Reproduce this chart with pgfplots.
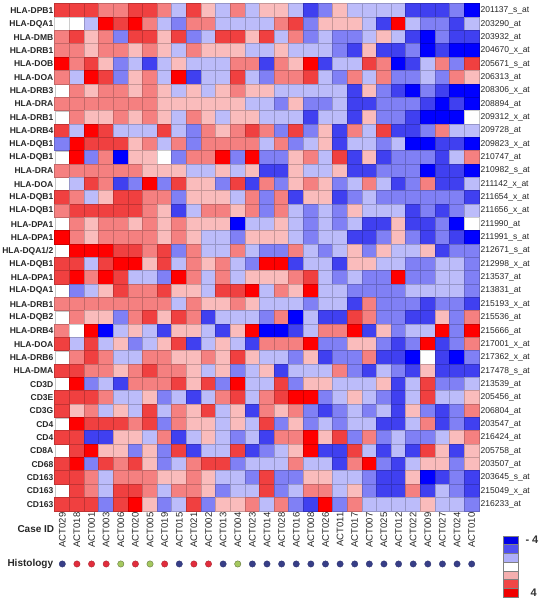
\documentclass[border=0pt]{standalone}
\usepackage{pgfplots}
\pgfplotsset{compat=1.18}
\usepackage{fontspec}
\setmainfont{Liberation Sans}
\definecolor{histnavy}{RGB}{55,62,135}
\definecolor{histred}{RGB}{225,45,60}
\definecolor{histgreen}{RGB}{165,200,95}
\begin{document}
\begin{tikzpicture}
\useasboundingbox (0,0) rectangle (542bp,601bp);
\begin{axis}[
  at={(55bp,90bp)}, anchor=south west,
  scale only axis, width=424bp, height=507bp,
  xmin=-0.5, xmax=28.5, ymin=-0.5, ymax=37.5, y dir=reverse,
  clip=false, axis on top,
  colormap={bwr}{rgb255=(0,0,255) rgb255=(64,64,240) rgb255=(128,128,245) rgb255=(188,188,250) rgb255=(255,255,255) rgb255=(250,188,188) rgb255=(245,128,128) rgb255=(240,64,64) rgb255=(255,0,0)},
  point meta min=-4, point meta max=4,
  xtick={0,...,28}, ytick={0,...,37},
  major tick length=0pt, minor tick length=0pt,
  minor xtick={-0.5,0.5,...,28.5}, minor ytick={-0.5,0.5,...,37.5},
  grid=minor, minor grid style={black!22, line width=0.2bp},
  axis line style={black!22, line width=0.2bp},
  xticklabels={ACT029,ACT018,ACT001,ACT003,ACT006,ACT020,ACT005,ACT019,ACT015,ACT021,ACT002,ACT013,ACT004,ACT023,ACT014,ACT028,ACT016,ACT008,ACT026,ACT011,ACT017,ACT007,ACT025,ACT012,ACT022,ACT009,ACT027,ACT024,ACT010},
  yticklabels={HLA-DPB1,HLA-DQA1,HLA-DMB,HLA-DRB1,HLA-DOB,HLA-DOA,HLA-DRB3,HLA-DRA,HLA-DRB1,HLA-DRB4,HLA-DQB1,HLA-DQB1,HLA-DRA,HLA-DOA,HLA-DQB1,HLA-DQB1,HLA-DPA1,HLA-DPA1,HLA-DQA1/2,HLA-DQB1,HLA-DPA1,HLA-DQA1,HLA-DRB1,HLA-DQB2,HLA-DRB4,HLA-DOA,HLA-DRB6,HLA-DMA,CD3D,CD3E,CD3G,CD4,CD4,CD8A,CD68,CD163,CD163,CD163},
  xticklabel style={rotate=90, anchor=east, inner xsep=1.5bp, font=\fontsize{9.5bp}{10bp}\selectfont, text=black!85},
  yticklabel style={anchor=east, inner xsep=1.5bp, font=\bfseries\fontsize{8.5bp}{9bp}\selectfont, text=black!85},
]
\addplot[scatter, only marks, mark=square*, mark size=6.72bp, scatter src=explicit, mark options={xscale=1.09, line width=0pt}] table[header=false, row sep=\\, x expr={mod(\coordindex,29)}, y expr={floor(\coordindex/29)}, meta index=0]{
3\\3\\3\\2\\2\\3\\3\\2\\-1\\3\\1\\-1\\2\\-1\\1\\1\\-1\\-3\\-2\\1\\-1\\-1\\-1\\-1\\-3\\-3\\-3\\-2\\-4\\
0\\0\\-1\\4\\3\\4\\2\\-1\\-2\\2\\2\\-1\\-1\\-1\\-1\\2\\3\\-2\\1\\1\\1\\-1\\-3\\4\\-1\\-2\\-2\\-3\\-1\\
2\\3\\1\\2\\-2\\3\\3\\1\\3\\-2\\-1\\3\\3\\1\\3\\-1\\2\\-2\\-1\\-2\\-2\\-1\\1\\-1\\-3\\-4\\-2\\-3\\-3\\
2\\2\\1\\2\\2\\1\\2\\1\\-1\\2\\1\\1\\1\\-1\\-1\\1\\-1\\-1\\-1\\-2\\-3\\1\\-3\\-3\\-2\\-4\\-3\\-4\\-4\\
4\\2\\3\\1\\-2\\-1\\-3\\-1\\1\\-1\\-1\\-1\\2\\2\\-3\\2\\1\\4\\-3\\-1\\-1\\3\\2\\-4\\-3\\-1\\2\\-2\\3\\
1\\-1\\4\\3\\-2\\1\\2\\-1\\4\\-3\\-1\\-1\\3\\-1\\-2\\2\\2\\3\\-1\\-2\\2\\-1\\2\\-2\\-2\\-1\\-2\\2\\1\\
2\\2\\1\\2\\2\\1\\2\\1\\-1\\1\\-1\\1\\2\\1\\1\\-1\\-1\\-1\\-1\\-1\\-3\\1\\-2\\-3\\-4\\-2\\-3\\-4\\-4\\
2\\2\\2\\2\\2\\2\\2\\1\\1\\1\\1\\1\\1\\-1\\-1\\-2\\1\\-2\\-2\\-1\\-3\\-3\\-2\\-2\\-2\\-3\\-4\\-3\\-4\\
2\\2\\1\\1\\2\\1\\2\\1\\-1\\2\\1\\-1\\1\\1\\-1\\-1\\-1\\-3\\-1\\-1\\-3\\1\\-2\\-2\\-3\\-4\\-4\\-4\\0\\
3\\-1\\4\\3\\-1\\-1\\-1\\3\\-1\\-2\\2\\1\\2\\3\\2\\-2\\3\\-2\\1\\-3\\2\\-1\\3\\-3\\-3\\-2\\2\\-1\\-1\\
4\\4\\3\\3\\3\\1\\2\\-1\\2\\-2\\2\\2\\2\\2\\-1\\2\\-2\\-1\\1\\-3\\-1\\-1\\-2\\-1\\-4\\-4\\-3\\-3\\-4\\
-2\\4\\-2\\2\\-4\\1\\1\\0\\-2\\2\\2\\4\\-2\\4\\-2\\-2\\1\\2\\-1\\3\\-3\\1\\-3\\-2\\-2\\-2\\-3\\-1\\2\\
2\\2\\2\\2\\2\\2\\1\\1\\1\\-1\\-1\\1\\-1\\1\\-3\\-3\\1\\-1\\-1\\1\\-3\\-3\\-2\\-2\\-2\\-4\\-3\\-3\\-4\\
2\\-1\\3\\2\\-3\\-2\\4\\-2\\3\\1\\1\\-2\\3\\-3\\2\\-2\\1\\2\\1\\-2\\-1\\2\\-1\\-3\\-2\\2\\-3\\-3\\-1\\
3\\2\\-1\\1\\3\\3\\2\\2\\-2\\1\\1\\1\\-1\\2\\-2\\2\\-3\\1\\1\\-3\\-2\\-1\\-2\\-2\\-2\\-2\\-2\\-2\\-3\\
3\\3\\3\\3\\3\\3\\2\\1\\-3\\-1\\2\\2\\1\\2\\-2\\2\\-1\\-2\\-1\\-2\\1\\-1\\-1\\-1\\-3\\-2\\-3\\-2\\-1\\
2\\2\\1\\2\\2\\1\\2\\1\\2\\1\\1\\1\\-4\\-1\\-1\\1\\-1\\-2\\-1\\-2\\-1\\-3\\-3\\1\\-3\\-3\\-2\\-4\\0\\
2\\2\\1\\2\\2\\2\\2\\1\\2\\1\\-1\\-1\\-2\\1\\1\\1\\-1\\-2\\-1\\-1\\-3\\-3\\-2\\1\\-2\\-3\\-2\\-3\\-4\\
4\\4\\4\\4\\3\\3\\2\\3\\-2\\2\\-1\\-1\\2\\-1\\-2\\-2\\2\\-1\\-2\\-1\\1\\-2\\1\\-1\\-1\\1\\-3\\-2\\-2\\
3\\3\\-1\\3\\4\\4\\1\\3\\-1\\2\\1\\2\\-1\\-2\\4\\4\\-3\\-1\\-1\\-3\\1\\1\\-1\\-1\\-2\\-2\\-1\\-1\\-2\\
3\\4\\2\\4\\3\\-1\\-1\\-2\\4\\2\\-1\\2\\-1\\1\\1\\1\\2\\3\\-1\\-2\\-1\\-2\\-2\\4\\-2\\-2\\-1\\-1\\-2\\
3\\-2\\-1\\1\\3\\2\\2\\3\\1\\1\\-1\\3\\3\\4\\-1\\2\\1\\4\\-1\\-1\\-2\\-2\\-2\\-2\\-1\\-1\\-1\\-1\\-2\\
2\\2\\2\\2\\2\\2\\2\\2\\-1\\2\\1\\1\\2\\1\\-1\\-1\\-1\\-2\\-1\\-1\\-3\\2\\-2\\-2\\-2\\-3\\-2\\-2\\-3\\
2\\2\\1\\1\\-2\\2\\3\\1\\3\\2\\-3\\-1\\-1\\-1\\-2\\2\\-4\\-1\\-3\\-3\\3\\2\\-2\\-2\\-3\\-3\\1\\-2\\2\\
2\\0\\4\\-4\\-1\\1\\-1\\-3\\1\\1\\-1\\-3\\1\\4\\-4\\-4\\-3\\-1\\2\\2\\4\\-3\\1\\-2\\-1\\-1\\4\\-2\\4\\
3\\-1\\3\\-1\\1\\-2\\-1\\1\\3\\-3\\-1\\1\\-1\\-3\\2\\2\\2\\4\\-2\\-2\\1\\1\\-2\\-3\\-2\\4\\-3\\-2\\2\\
3\\2\\3\\2\\-1\\-1\\2\\2\\1\\1\\2\\1\\3\\1\\-1\\-1\\-2\\1\\-3\\-2\\-2\\2\\-3\\-3\\-4\\0\\-3\\-4\\-2\\
2\\3\\2\\2\\1\\2\\3\\2\\2\\1\\-1\\1\\-2\\-1\\1\\-3\\-1\\-1\\-1\\2\\-2\\-3\\-1\\-2\\-3\\1\\-3\\-3\\-3\\
3\\4\\-2\\-1\\-3\\2\\2\\2\\3\\1\\3\\-2\\4\\-1\\-1\\3\\-2\\1\\1\\-1\\-1\\-1\\1\\-3\\-1\\3\\-2\\-2\\-1\\
3\\3\\3\\2\\-1\\-1\\1\\-2\\-1\\-3\\-1\\2\\3\\-1\\2\\3\\4\\4\\-2\\-1\\1\\-1\\-2\\-3\\-1\\3\\-1\\-1\\1\\
3\\1\\2\\-1\\1\\-1\\3\\-1\\2\\1\\3\\-1\\1\\-3\\2\\1\\2\\-2\\-3\\-2\\-1\\-2\\-1\\-3\\1\\-2\\-3\\-2\\2\\
3\\4\\3\\3\\3\\2\\3\\-2\\2\\1\\1\\-1\\1\\-1\\3\\-2\\1\\-2\\-1\\-2\\-1\\-1\\-3\\-3\\-1\\2\\-3\\-2\\-3\\
3\\3\\-3\\-3\\1\\1\\-1\\2\\-3\\-1\\1\\-1\\-2\\-1\\-3\\2\\2\\4\\1\\3\\-2\\2\\-2\\-1\\-2\\-2\\-1\\1\\2\\
3\\3\\4\\1\\1\\-2\\1\\-2\\3\\-3\\-1\\-1\\3\\-3\\-2\\-1\\1\\4\\-3\\-3\\3\\-1\\-3\\-1\\-3\\3\\1\\-3\\1\\
-2\\4\\-2\\3\\2\\3\\1\\-2\\-1\\2\\3\\3\\-2\\-1\\-1\\-1\\2\\-1\\-1\\-3\\2\\4\\-2\\-3\\-1\\1\\1\\-2\\1\\
3\\3\\2\\-1\\2\\2\\2\\1\\1\\2\\1\\-1\\-1\\-2\\3\\-2\\-2\\1\\1\\-1\\-1\\-2\\-3\\-3\\1\\-4\\-3\\-2\\-3\\
3\\3\\2\\-1\\3\\3\\2\\-1\\2\\2\\1\\-2\\-1\\-1\\3\\-2\\-1\\2\\2\\-1\\1\\-2\\-3\\-3\\2\\-3\\-1\\-2\\-3\\
3\\3\\3\\-2\\3\\4\\1\\-2\\-1\\3\\-2\\1\\1\\2\\-1\\2\\-2\\-3\\4\\-2\\2\\-1\\-1\\-1\\-1\\1\\-1\\-1\\-2\\
};
\addplot[only marks, mark=*, mark size=3.2bp, mark options={fill=histnavy, draw=histnavy!80!black, line width=0.3bp}] coordinates {(0,41.47) (8,41.47) (11,41.47) (13,41.47) (14,41.47) (15,41.47) (16,41.47) (17,41.47) (18,41.47) (19,41.47) (20,41.47) (21,41.47) (22,41.47) (23,41.47) (24,41.47) (25,41.47) (26,41.47) (27,41.47) (28,41.47)};
\addplot[only marks, mark=*, mark size=3.2bp, mark options={fill=histred, draw=histred!70!black, line width=0.3bp}] coordinates {(1,41.47) (2,41.47) (3,41.47) (5,41.47) (7,41.47) (9,41.47) (10,41.47)};
\addplot[only marks, mark=*, mark size=3.2bp, mark options={fill=histgreen, draw=histgreen!50!black, line width=0.3bp}] coordinates {(4,41.47) (6,41.47) (12,41.47)};
\end{axis}
\begin{axis}[
  at={(55bp,90bp)}, anchor=south west,
  scale only axis, width=424bp, height=507bp,
  xmin=0, xmax=1, ymin=-0.5, ymax=37.5, y dir=reverse,
  axis line style={draw=none}, xtick=\empty, ytick={0,...,37},
  major tick length=0pt, yticklabel pos=right,
  yticklabels={201137\_s\_at,203290\_at,203932\_at,204670\_x\_at,205671\_s\_at,206313\_at,208306\_x\_at,208894\_at,209312\_x\_at,209728\_at,209823\_x\_at,210747\_at,210982\_s\_at,211142\_x\_at,211654\_x\_at,211656\_x\_at,211990\_at,211991\_s\_at,212671\_s\_at,212998\_x\_at,213537\_at,213831\_at,215193\_x\_at,215536\_at,215666\_at,217001\_x\_at,217362\_x\_at,217478\_s\_at,213539\_at,205456\_at,206804\_at,203547\_at,216424\_at,205758\_at,203507\_at,203645\_s\_at,215049\_x\_at,216233\_at},
  yticklabel style={anchor=west, inner xsep=1.5bp, font=\fontsize{8.5bp}{9bp}\selectfont, text=black!85},
]
\end{axis}
\node[anchor=west, font=\bfseries\fontsize{10bp}{11bp}\selectfont, text=black!85] at (4bp,37bp) {Histology};
\node[anchor=west, font=\bfseries\fontsize{10bp}{11bp}\selectfont, text=black!85] at (14bp,72bp) {Case ID};
\definecolor{lg1}{RGB}{0,0,230}
\definecolor{lg2}{RGB}{80,80,240}
\definecolor{lg3}{RGB}{175,175,250}
\definecolor{lg4}{RGB}{255,255,255}
\definecolor{lg5}{RGB}{245,175,175}
\definecolor{lg6}{RGB}{240,70,70}
\definecolor{lg7}{RGB}{240,0,0}
\filldraw[fill=lg1, draw=gray, line width=0.4bp] (503bp,56.3bp) rectangle (518bp,65bp);
\filldraw[fill=lg2, draw=gray, line width=0.4bp] (503bp,47.6bp) rectangle (518bp,56.3bp);
\filldraw[fill=lg3, draw=gray, line width=0.4bp] (503bp,38.9bp) rectangle (518bp,47.6bp);
\filldraw[fill=lg4, draw=gray, line width=0.4bp] (503bp,30.2bp) rectangle (518bp,38.9bp);
\filldraw[fill=lg5, draw=gray, line width=0.4bp] (503bp,21.5bp) rectangle (518bp,30.2bp);
\filldraw[fill=lg6, draw=gray, line width=0.4bp] (503bp,12.8bp) rectangle (518bp,21.5bp);
\filldraw[fill=lg7, draw=gray, line width=0.4bp] (503bp,4.1bp) rectangle (518bp,12.8bp);
\node[anchor=west, font=\bfseries\fontsize{11bp}{12bp}\selectfont, text=black!80] at (522bp,61bp) {- 4};
\node[anchor=west, font=\bfseries\fontsize{11bp}{12bp}\selectfont, text=black!80] at (527bp,8.5bp) {4};
\end{tikzpicture}
\end{document}
